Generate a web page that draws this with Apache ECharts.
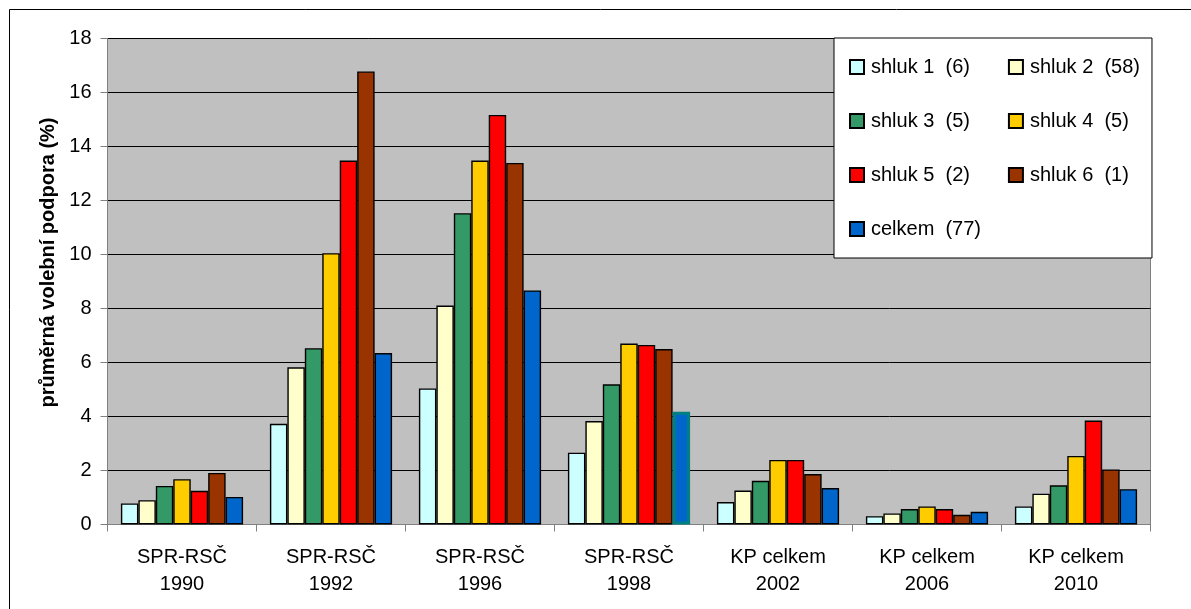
<!DOCTYPE html>
<html>
<head>
<meta charset="utf-8">
<script src="https://cdn.jsdelivr.net/npm/echarts@6/dist/echarts.min.js"></script>
<style>
html,body{margin:0;padding:0;background:#fff;}
#chart{width:1191px;height:609px;}
</style>
</head>
<body>
<div id="chart"></div>
<script>
const categories = ['SPR-RSČ\n1990','SPR-RSČ\n1992','SPR-RSČ\n1996','SPR-RSČ\n1998','KP celkem\n2002','KP celkem\n2006','KP celkem\n2010'];
const seriesNames = ['shluk 1  (6)','shluk 2  (58)','shluk 3  (5)','shluk 4  (5)','shluk 5  (2)','shluk 6  (1)','celkem  (77)'];
const shluk1 = [0.78, 3.73, 5.04, 2.66, 0.83, 0.31, 0.67];
const shluk2 = [0.90, 5.82, 8.11, 3.83, 1.26, 0.41, 1.14];
const shluk3 = [1.43, 6.53, 11.53, 5.19, 1.62, 0.57, 1.45];
const shluk4 = [1.68, 10.05, 13.48, 6.70, 2.39, 0.67, 2.54];
const shluk5 = [1.25, 13.48, 15.17, 6.65, 2.39, 0.57, 3.85];
const shluk6 = [1.91, 16.78, 13.39, 6.50, 1.87, 0.36, 2.04];
const celkem = [1.02, 6.35, 8.67, 4.18, 1.35, 0.47, 1.31];
const yTicks = [0, 2, 4, 6, 8, 10, 12, 14, 16, 18];

const values = [shluk1, shluk2, shluk3, shluk4, shluk5, shluk6, celkem];
const colors = ['#CCFFFF','#FFFFCC','#339966','#FFCC00','#FF0000','#993300','#0066CC'];
const highlightIndex = 3; // selected point in the original (celkem, 1998)

const FONT = '"Liberation Sans", Arial, sans-serif';

const series = values.map((arr, si) => ({
  name: seriesNames[si],
  type: 'bar',
  barGap: '0%',
  barCategoryGap: '18%',
  itemStyle: { color: colors[si], borderColor: '#000', borderWidth: 1.4 },
  data: arr.map((v, i) => (si === 6 && i === highlightIndex)
    ? { value: v, itemStyle: { borderColor: '#008080', borderWidth: 3 } }
    : v)
}));

const chart = echarts.init(document.getElementById('chart'), null, { renderer: 'canvas' });
chart.setOption({
  animation: false,
  backgroundColor: '#ffffff',
  textStyle: { fontFamily: FONT },
  graphic: [{
    type: 'rect', silent: true, z: -10,
    shape: { x: 9.5, y: 9.5, width: 1400, height: 800 },
    style: { fill: 'none', stroke: '#000', lineWidth: 1 }
  }],
  grid: {
    left: 107.5, top: 38.5, right: 40.5, bottom: 84.5,
    show: true, backgroundColor: '#C0C0C0', borderColor: '#808080', borderWidth: 1
  },
  legend: {
    orient: 'horizontal',
    left: 834, top: 38, width: 300,
    padding: [19, 8, 19, 15],
    itemGap: 34,
    itemWidth: 14, itemHeight: 14,
    backgroundColor: '#fff',
    borderColor: '#000', borderWidth: 1,
    icon: 'rect',
    textStyle: { fontSize: 20, fontFamily: FONT, color: '#000', lineHeight: 18, padding: [0, 4, 0, 2] },
    data: seriesNames
  },
  xAxis: {
    type: 'category',
    data: categories,
    axisLine: { lineStyle: { color: '#808080', width: 1 } },
    axisTick: { show: true, length: 7, lineStyle: { color: '#808080' } },
    axisLabel: { color: '#000', fontSize: 20, fontFamily: FONT, lineHeight: 27, margin: 19, interval: 0 },
    splitLine: { show: false }
  },
  yAxis: {
    type: 'value',
    min: yTicks[0], max: yTicks[yTicks.length - 1], interval: 2,
    name: 'průměrná volební podpora (%)',
    nameLocation: 'middle',
    nameGap: 47,
    nameTextStyle: { fontSize: 20, fontWeight: 'bold', color: '#000', fontFamily: FONT, padding: [0, 0, 0, 38] },
    axisLine: { show: true, lineStyle: { color: '#808080', width: 1 } },
    axisTick: { show: true, length: 7, lineStyle: { color: '#808080' } },
    axisLabel: { color: '#000', fontSize: 20, fontFamily: FONT, margin: 16 },
    splitLine: { show: true, lineStyle: { color: '#000', width: 1 } }
  },
  series: series
});
</script>
</body>
</html>
